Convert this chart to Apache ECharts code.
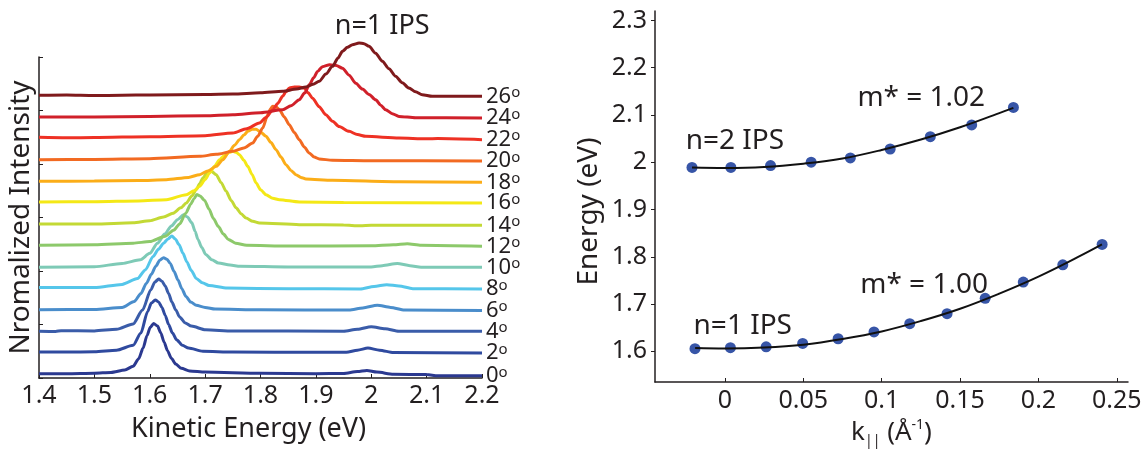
<!DOCTYPE html>
<html><head><meta charset="utf-8">
<script src="https://cdn.jsdelivr.net/npm/echarts@6/dist/echarts.min.js"></script>
<style>html,body{margin:0;padding:0;background:#fff}#c{width:1146px;height:453px}</style>
</head><body><div id="c"></div>
<script>
// ---------- Left panel: normalized spectra (kinetic energy eV, normalized intensity) ----------
const angleLabels = ['0','2','4','6','8','10','12','14','16','18','20','22','24','26'];
const spectrumColors = ['#2b3990','#2f4a9f','#3a5ca9','#4a8dcb','#55c6ea','#7ecab6','#8dc96b','#c3d935','#f4e816','#fbad18','#f26a22','#ee3124','#d0202a','#7f1a1c'];

const spec00 = [[1.40,0.08],[1.45,0.08],[1.50,0.09],[1.53,0.105],[1.555,0.15],[1.570,0.22],[1.580,0.36],[1.588,0.56],[1.595,0.79],[1.601,0.95],[1.607,1.02],[1.614,0.97],[1.620,0.84],[1.626,0.67],[1.632,0.51],[1.639,0.37],[1.647,0.26],[1.657,0.18],[1.672,0.13],[1.70,0.11],[1.80,0.09],[1.90,0.08],[1.95,0.085],[1.975,0.12],[1.992,0.14],[2.01,0.11],[2.04,0.07],[2.10,0.065],[2.12,0.04],[2.20,0.04]];
const spec02 = [[1.40,0.085],[1.45,0.085],[1.50,0.09],[1.54,0.12],[1.570,0.21],[1.584,0.44],[1.596,0.84],[1.603,1.0],[1.610,1.06],[1.616,1.02],[1.622,0.92],[1.628,0.77],[1.634,0.60],[1.641,0.44],[1.649,0.31],[1.659,0.21],[1.670,0.16],[1.696,0.10],[1.75,0.085],[1.90,0.08],[1.955,0.08],[1.975,0.12],[1.994,0.16],[2.015,0.12],[2.04,0.075],[2.20,0.067]];
const spec04 = [[1.40,0.075],[1.43,0.07],[1.44,0.085],[1.50,0.08],[1.54,0.11],[1.570,0.21],[1.587,0.47],[1.602,0.85],[1.609,0.99],[1.616,1.05],[1.622,1.01],[1.628,0.92],[1.634,0.78],[1.640,0.62],[1.647,0.47],[1.654,0.34],[1.664,0.23],[1.675,0.17],[1.701,0.10],[1.75,0.08],[1.95,0.075],[1.975,0.11],[2.0,0.16],[2.025,0.12],[2.05,0.075],[2.20,0.072]];
const spec06 = [[1.40,0.077],[1.50,0.08],[1.55,0.12],[1.572,0.23],[1.584,0.38],[1.594,0.57],[1.603,0.74],[1.611,0.89],[1.618,1.0],[1.625,1.05],[1.631,1.02],[1.637,0.94],[1.644,0.79],[1.651,0.63],[1.658,0.47],[1.665,0.33],[1.674,0.22],[1.684,0.16],[1.70,0.12],[1.718,0.09],[1.80,0.075],[1.96,0.07],[1.985,0.11],[2.011,0.16],[2.035,0.12],[2.06,0.07],[2.20,0.06]];
const spec08 = [[1.40,0.09],[1.50,0.09],[1.55,0.15],[1.578,0.26],[1.592,0.42],[1.606,0.67],[1.616,0.81],[1.625,0.92],[1.633,1.0],[1.640,1.055],[1.646,1.0],[1.653,0.89],[1.660,0.73],[1.667,0.57],[1.675,0.41],[1.684,0.26],[1.695,0.18],[1.707,0.13],[1.74,0.08],[1.85,0.07],[1.98,0.065],[2.005,0.11],[2.028,0.145],[2.05,0.12],[2.075,0.07],[2.20,0.064]];
const spec10 = [[1.40,0.07],[1.50,0.08],[1.55,0.14],[1.583,0.21],[1.60,0.33],[1.614,0.52],[1.627,0.69],[1.639,0.84],[1.650,0.96],[1.661,1.05],[1.668,1.01],[1.676,0.90],[1.682,0.74],[1.687,0.59],[1.694,0.44],[1.701,0.31],[1.712,0.21],[1.724,0.15],[1.745,0.11],[1.763,0.09],[1.85,0.075],[2.0,0.075],[2.02,0.10],[2.047,0.14],[2.07,0.10],[2.09,0.07],[2.20,0.069]];
const spec12 = [[1.40,0.08],[1.50,0.09],[1.57,0.12],[1.60,0.15],[1.628,0.25],[1.643,0.36],[1.654,0.48],[1.665,0.68],[1.674,0.85],[1.680,0.95],[1.685,1.03],[1.691,1.0],[1.699,0.92],[1.707,0.76],[1.715,0.58],[1.724,0.43],[1.733,0.29],[1.742,0.19],[1.755,0.12],[1.775,0.08],[1.85,0.065],[2.0,0.07],[2.04,0.09],[2.065,0.11],[2.09,0.08],[2.20,0.061]];
const spec14 = [[1.40,0.078],[1.50,0.08],[1.57,0.10],[1.60,0.14],[1.625,0.21],[1.642,0.28],[1.656,0.38],[1.666,0.47],[1.676,0.60],[1.684,0.72],[1.690,0.83],[1.696,0.94],[1.705,1.06],[1.712,1.06],[1.72,1.0],[1.729,0.85],[1.738,0.69],[1.747,0.52],[1.756,0.38],[1.765,0.27],[1.774,0.19],[1.786,0.13],[1.798,0.097],[1.87,0.066],[1.95,0.06],[1.98,0.045],[2.0,0.055],[2.1,0.055],[2.20,0.054]];
const spec16 = [[1.40,0.09],[1.50,0.095],[1.58,0.11],[1.63,0.133],[1.666,0.227],[1.68,0.30],[1.69,0.383],[1.70,0.51],[1.708,0.632],[1.717,0.76],[1.726,0.881],[1.735,0.96],[1.744,1.018],[1.75,1.037],[1.756,1.02],[1.762,0.974],[1.77,0.87],[1.777,0.756],[1.785,0.60],[1.792,0.445],[1.80,0.32],[1.81,0.227],[1.822,0.16],[1.834,0.133],[1.87,0.09],[1.95,0.08],[2.20,0.071]];
const spec18 = [[1.40,0.076],[1.50,0.08],[1.58,0.09],[1.63,0.107],[1.67,0.15],[1.69,0.20],[1.705,0.27],[1.72,0.356],[1.732,0.48],[1.744,0.637],[1.753,0.75],[1.762,0.855],[1.77,0.94],[1.777,1.01],[1.785,1.05],[1.792,1.05],[1.80,1.0],[1.81,0.917],[1.819,0.80],[1.828,0.668],[1.837,0.53],[1.846,0.388],[1.855,0.28],[1.864,0.20],[1.873,0.15],[1.882,0.12],[1.93,0.095],[2.05,0.07],[2.20,0.057]];
const spec20 = [[1.40,0.081],[1.50,0.085],[1.60,0.10],[1.69,0.143],[1.72,0.18],[1.75,0.237],[1.77,0.30],[1.786,0.393],[1.795,0.52],[1.804,0.673],[1.813,0.92],[1.818,1.03],[1.822,1.078],[1.828,1.07],[1.834,1.016],[1.843,0.88],[1.852,0.735],[1.861,0.59],[1.87,0.455],[1.879,0.32],[1.888,0.206],[1.897,0.13],[1.906,0.094],[1.93,0.07],[2.0,0.06],[2.20,0.056]];
const spec22 = [[1.40,0.098],[1.45,0.09],[1.50,0.095],[1.60,0.11],[1.70,0.13],[1.75,0.18],[1.775,0.26],[1.798,0.366],[1.81,0.47],[1.822,0.61],[1.831,0.73],[1.84,0.865],[1.846,0.95],[1.852,1.02],[1.861,1.04],[1.87,1.04],[1.879,1.02],[1.886,0.93],[1.894,0.83],[1.906,0.67],[1.918,0.52],[1.93,0.40],[1.942,0.30],[1.96,0.21],[1.975,0.15],[1.99,0.117],[2.05,0.086],[2.1,0.07],[2.12,0.075],[2.20,0.055]];
const spec24 = [[1.40,0.078],[1.50,0.08],[1.60,0.09],[1.70,0.10],[1.75,0.12],[1.80,0.16],[1.84,0.215],[1.855,0.29],[1.87,0.40],[1.88,0.53],[1.888,0.68],[1.896,0.81],[1.903,0.93],[1.912,1.02],[1.925,1.057],[1.937,1.04],[1.948,0.99],[1.96,0.86],[1.972,0.71],[1.984,0.60],[1.996,0.50],[2.008,0.40],[2.017,0.30],[2.026,0.215],[2.038,0.14],[2.05,0.09],[2.08,0.065],[2.20,0.06]];
const spec26 = [[1.40,0.083],[1.45,0.09],[1.50,0.08],[1.55,0.085],[1.60,0.09],[1.70,0.10],[1.75,0.108],[1.80,0.13],[1.84,0.158],[1.865,0.20],[1.882,0.24],[1.895,0.29],[1.906,0.345],[1.918,0.48],[1.93,0.625],[1.94,0.78],[1.948,0.906],[1.957,0.98],[1.966,1.03],[1.978,1.062],[1.987,1.05],[1.996,1.0],[2.008,0.87],[2.02,0.72],[2.032,0.58],[2.044,0.44],[2.056,0.32],[2.068,0.22],[2.08,0.15],[2.092,0.095],[2.11,0.065],[2.20,0.065]];

const kineticTicks = [1.4,1.5,1.6,1.7,1.8,1.9,2.0,2.1,2.2];
const leftAnnotation = [['n=1 IPS', 1.934, 6.567]];

// ---------- Right panel: dispersion ----------
const kN2 = [-0.0210,0.0038,0.0291,0.0550,0.0800,0.1054,0.1310,0.1574,0.1840];
const eN2 = [1.989,1.989,1.993,2.000,2.009,2.028,2.054,2.079,2.116];
const kN1 = [-0.0191,0.0035,0.0263,0.0496,0.0722,0.0951,0.1179,0.1417,0.1660,0.1903,0.2155,0.2406];
const eN1 = [1.6055,1.6075,1.6095,1.6165,1.6265,1.6410,1.6585,1.6795,1.7120,1.7465,1.7830,1.8260];
const fitKN2 = [-0.0210,0,0.025,0.05,0.075,0.1,0.125,0.15,0.175,0.184];
const fitEN2 = [1.989,1.988,1.990,1.997,2.008,2.026,2.048,2.074,2.104,2.115];
const fitKN1 = [-0.019,0,0.025,0.05,0.075,0.1,0.125,0.15,0.175,0.2,0.225,0.2405];
const fitEN1 = [1.607,1.606,1.608,1.614,1.626,1.642,1.664,1.690,1.722,1.758,1.799,1.826];
const kTicks = [0,0.05,0.1,0.15,0.2,0.25];
const energyTicks = [1.6,1.7,1.8,1.9,2.0,2.1,2.2,2.3];
const rightAnnotations = [['n=2 IPS',-0.025,2.045],['m* = 1.02',0.0845,2.136],['m* = 1.00',0.0863,1.741],['n=1 IPS',-0.020,1.653]];

// ---------- build ----------
const FONT = '"Noto Sans", "Liberation Sans", sans-serif';
const INK = '#231f20';
const offsetStep = 0.4;
const spectra = [spec00,spec02,spec04,spec06,spec08,spec10,spec12,spec14,spec16,spec18,spec20,spec22,spec24,spec26];

const lineSeries = spectra.map((s, i) => ({
  type: 'line', xAxisIndex: 0, yAxisIndex: 0, name: angleLabels[i] + '°',
  data: s.map(p => [p[0], p[1] + i * offsetStep]),
  showSymbol: false, symbol: 'none', clip: false, smooth: 0.25, smoothMonotone: 'x',
  lineStyle: { color: spectrumColors[i], width: 3 }, itemStyle: { color: spectrumColors[i] },
  endLabel: { show: true, distance: 4, formatter: '{d|' + angleLabels[i] + '}{o|o}',
    rich: { d: { fontSize: 22, fontFamily: FONT, color: INK, lineHeight: 22 },
            o: { fontSize: 15, fontFamily: FONT, color: INK, verticalAlign: 'top', lineHeight: 15 } } },
  z: 2 + i, silent: true, animation: false
}));

const annotLabel = (size) => ({ show: true, position: 'right', distance: 0, fontSize: size, fontFamily: FONT, color: INK,
  opacity: 1, formatter: p => p.data[2] });

const option = {
  animation: false,
  textStyle: { fontFamily: FONT, color: INK },
  grid: [
    { left: 39, right: 664, top: 57, bottom: 75 },
    { left: 655, right: 18, top: 11, bottom: 71 }
  ],
  xAxis: [
    { gridIndex: 0, type: 'value', min: kineticTicks[0], max: kineticTicks[kineticTicks.length - 1],
      axisLine: { show: true, onZero: false, lineStyle: { color: INK, width: 1.5 } },
      axisTick: { show: true, inside: true, length: 4, customValues: kineticTicks, lineStyle: { color: INK } },
      axisLabel: { show: true, customValues: kineticTicks, fontSize: 25, color: INK, fontFamily: FONT, margin: 5,
        formatter: v => String(Math.round(v * 10) / 10) },
      splitLine: { show: false },
      name: 'Kinetic Energy (eV)', nameLocation: 'middle', nameGap: 38,
      nameTextStyle: { fontSize: 27, color: INK, fontFamily: FONT, padding: [0, 24, 0, 0] } },
    { gridIndex: 1, type: 'value', min: -0.0446, max: 0.2571,
      axisLine: { show: true, onZero: false, lineStyle: { color: INK, width: 1.5 } },
      axisTick: { show: true, inside: true, length: 4, customValues: kTicks, lineStyle: { color: INK } },
      axisLabel: { show: true, customValues: kTicks, fontSize: 25, color: INK, fontFamily: FONT, margin: 6,
        formatter: v => String(Math.round(v * 100) / 100) },
      splitLine: { show: false },
      name: '{t|k}{sub|||}{t| (Å}{sup|-1}{t|)}', nameLocation: 'middle', nameGap: 32,
      nameTextStyle: { rich: {
        t: { fontSize: 26, fontFamily: FONT, color: INK, lineHeight: 30 },
        sub: { fontSize: 14, fontFamily: FONT, color: INK, verticalAlign: 'bottom', lineHeight: 14 },
        sup: { fontSize: 14, fontFamily: FONT, color: INK, verticalAlign: 'top', lineHeight: 14 } } } }
  ],
  yAxis: [
    { gridIndex: 0, type: 'value', min: 0, max: 6, interval: 1,
      axisLine: { show: true, onZero: false, lineStyle: { color: INK, width: 1.5 } },
      axisTick: { show: true, inside: true, length: 4, lineStyle: { color: INK } },
      axisLabel: { show: false }, splitLine: { show: false },
      name: 'Nromalized Intensity', nameLocation: 'middle', nameGap: 4,
      nameTextStyle: { fontSize: 28, color: INK, fontFamily: FONT } },
    { gridIndex: 1, type: 'value', min: 1.535, max: 2.32,
      axisLine: { show: true, onZero: false, lineStyle: { color: INK, width: 1.5 } },
      axisTick: { show: true, inside: false, length: 4, customValues: energyTicks, lineStyle: { color: INK } },
      axisLabel: { show: true, customValues: energyTicks, fontSize: 25, color: INK, fontFamily: FONT, margin: 8,
        formatter: v => String(Math.round(v * 10) / 10) },
      splitLine: { show: false },
      name: 'Energy (eV)', nameLocation: 'middle', nameGap: 52,
      nameTextStyle: { fontSize: 28, color: INK, fontFamily: FONT, padding: [0, 30, 0, 0] } }
  ],
  series: [
    ...lineSeries,
    { type: 'scatter', xAxisIndex: 0, yAxisIndex: 0, symbolSize: 0, clip: false, silent: true,
      itemStyle: { opacity: 1 },
      data: leftAnnotation.map(a => [a[1], a[2], a[0]]), label: annotLabel(27), z: 30 },
    { type: 'scatter', xAxisIndex: 1, yAxisIndex: 1, symbolSize: 11, silent: true, name: 'n=2',
      itemStyle: { color: '#3755a7', opacity: 1 }, data: kN2.map((k, i) => [k, eN2[i]]), z: 3 },
    { type: 'scatter', xAxisIndex: 1, yAxisIndex: 1, symbolSize: 11, silent: true, name: 'n=1',
      itemStyle: { color: '#3755a7', opacity: 1 }, data: kN1.map((k, i) => [k, eN1[i]]), z: 3 },
    { type: 'line', xAxisIndex: 1, yAxisIndex: 1, symbol: 'none', smooth: 0.4, silent: true, z: 5,
      lineStyle: { color: '#111', width: 2 }, data: fitKN2.map((k, i) => [k, fitEN2[i]]) },
    { type: 'line', xAxisIndex: 1, yAxisIndex: 1, symbol: 'none', smooth: 0.4, silent: true, z: 5,
      lineStyle: { color: '#111', width: 2 }, data: fitKN1.map((k, i) => [k, fitEN1[i]]) },
    { type: 'scatter', xAxisIndex: 1, yAxisIndex: 1, symbolSize: 0, clip: false, silent: true,
      itemStyle: { opacity: 1 },
      data: rightAnnotations.map(a => [a[1], a[2], a[0]]), label: annotLabel(28), z: 30 }
  ]
};

const chart = echarts.init(document.getElementById('c'), null, { renderer: 'canvas' });
chart.setOption(option);
</script>
</body></html>
